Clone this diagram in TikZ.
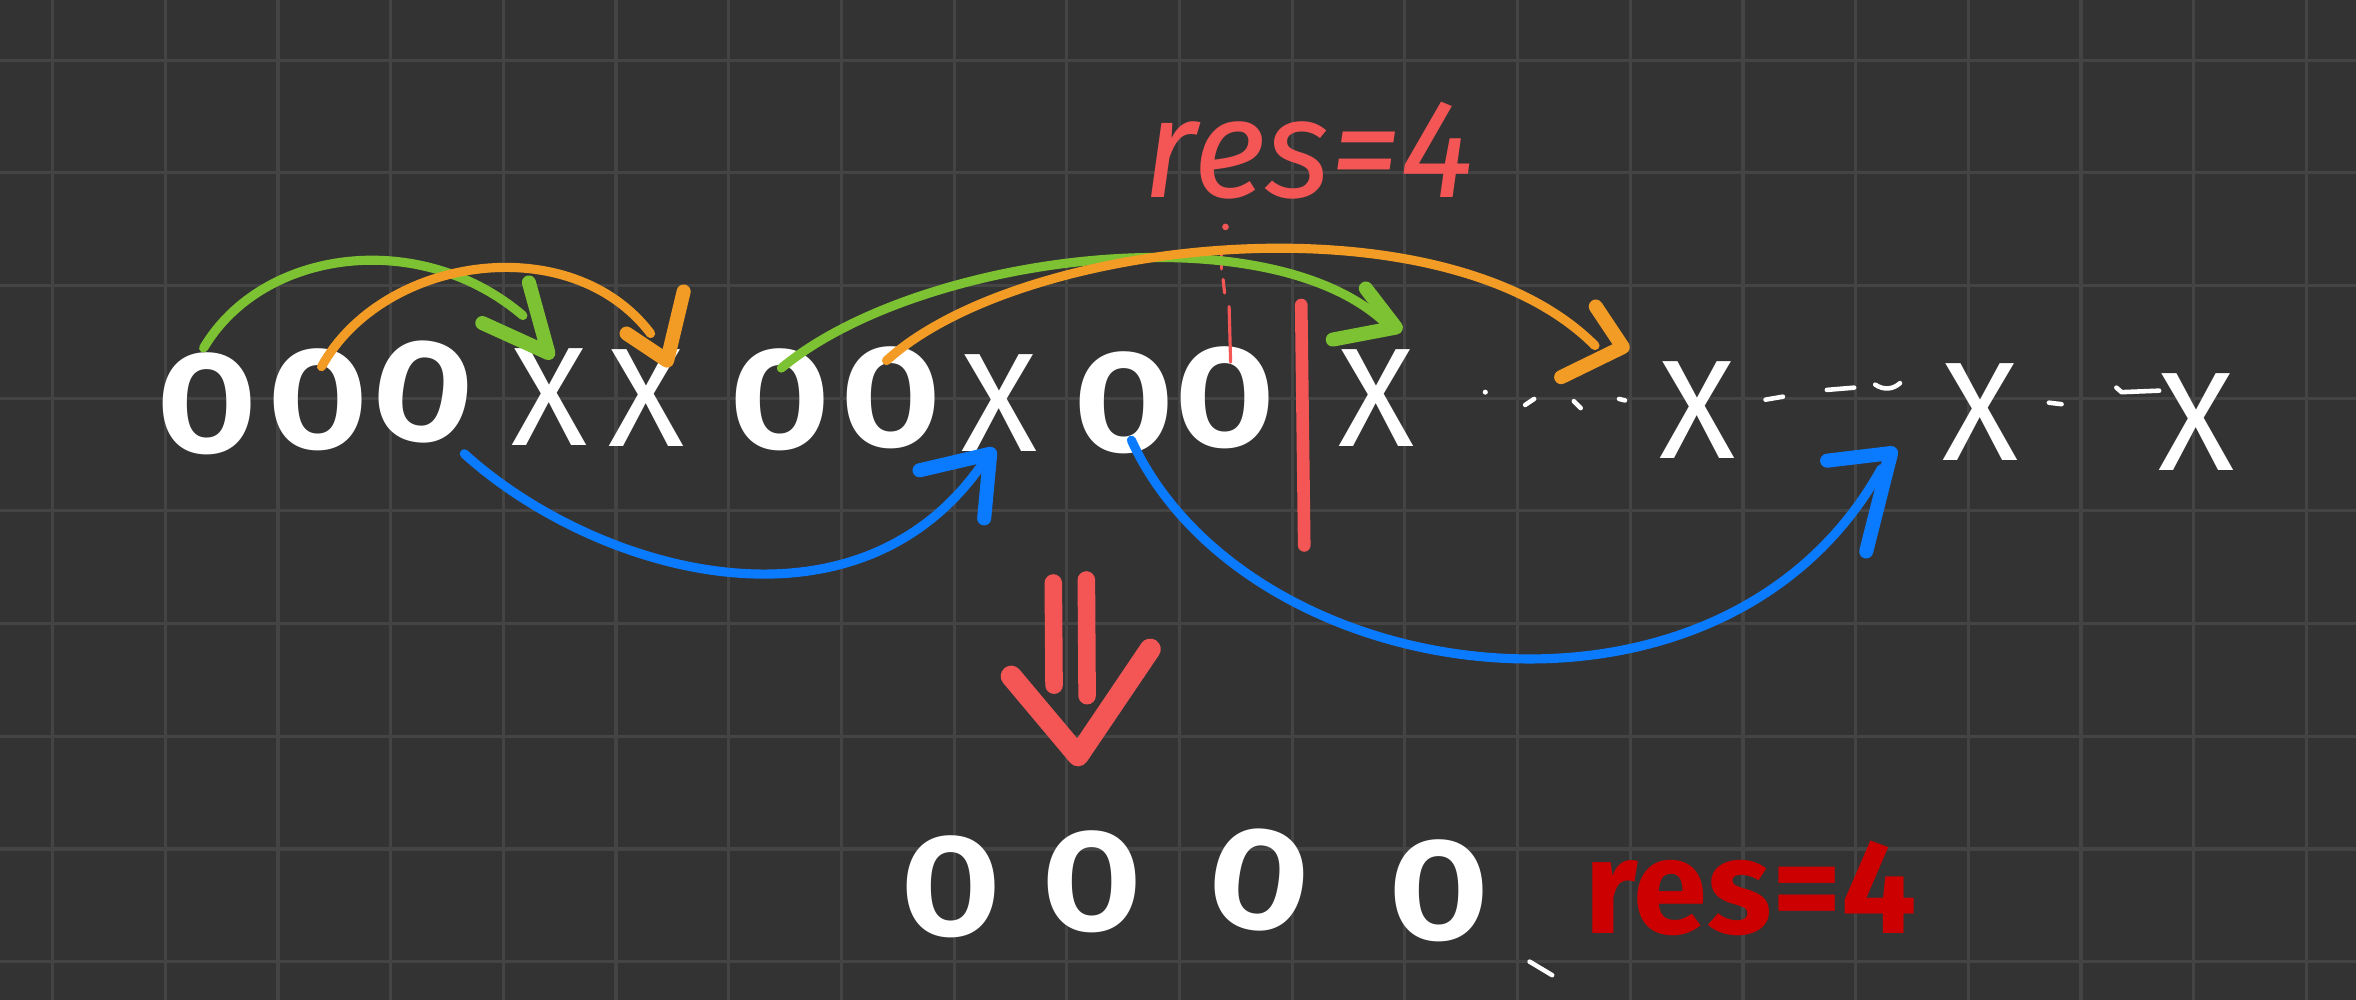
\documentclass[tikz,border=0pt]{standalone}
\usepackage{fontspec}
\setmainfont{Fira Sans}
\definecolor{bgc}{HTML}{333333}
\definecolor{gridc}{HTML}{444444}
\definecolor{greenc}{HTML}{7CC232}
\definecolor{orangec}{HTML}{F39C25}
\definecolor{bluec}{HTML}{0A7BFF}
\definecolor{redc}{HTML}{F45656}
\definecolor{darkredc}{HTML}{CC0000}
\begin{document}
\begin{tikzpicture}[x=0.15026mm,y=-0.15026mm,
  gridline/.style={draw=gridc,line width=0.9pt},
  oo/.style={text=white,inner sep=0pt,font=\fontsize{40}{40}\selectfont\bfseries},
  xx/.style={text=white,inner sep=0pt,font=\fontsize{40}{40}\selectfont},
  arc/.style={line width=2.6pt,line cap=round},
  head/.style={line width=4pt,line cap=round,line join=round},
  dashmark/.style={draw=white,line width=1.3pt,line cap=round},
  reslabel/.style={text=redc,inner sep=0pt,font=\fontsize{40}{40}\selectfont\itshape}]
\fill[bgc] (0,0) rectangle (1568,665.5);
\useasboundingbox (0,0) rectangle (1568,665.5);
\foreach \i in {0,...,20} \draw[gridline] (35+75*\i,0) -- (35+75*\i,665.5);
\foreach \j in {0,...,8} \draw[gridline] (0,40+75*\j) -- (1568,40+75*\j);

% top row
\node[oo] (c1) at (138,269) {O};
\node[oo] (c2) at (212,266) {O};
\node[oo,rotate=-8] (c3) at (282,261) {O};
\node[xx] (c4) at (366,264) {X};
\node[xx] (c5) at (430,265) {X};
\node[oo] (c6) at (519,266) {O};
\node[oo] (c7) at (593,265) {O};
\node[xx] (c8) at (665,268) {X};
\node[oo] (c9) at (748,268) {O};
\node[oo] (c10) at (815,265) {O};
\node[xx] (c11) at (916,265) {X};
\node[xx] (c12) at (1130,273) {X};
\node[xx] (c13) at (1318,274) {X};
\node[xx] (c14) at (1462,281) {X};

% dotted / dashed marks between X's
\fill[white] (988.5,261) circle (1.7);
\draw[dashmark] (1015,269.5) -- (1021,265.5);
\draw[dashmark] (1047.4,267) -- (1052,271.6);
\draw[dashmark] (1077.5,265.5) -- (1081.5,266.5);
\draw[dashmark] (1175,266) -- (1186.6,264);
\draw[dashmark] (1215.8,259.5) -- (1234,258);
\draw[dashmark] (1248,256) .. controls (1254,260) and (1260,259) .. (1264.5,255);
\draw[dashmark] (1363.6,268) -- (1372,269);
\draw[dashmark] (1408.5,258) -- (1412,261) -- (1437,260);

% red marks
\node[reslabel] (res1) at (871,100) {res=4};
\fill[redc] (868,127) circle (1.6);
\fill[redc] (815.6,151) circle (2.2);
\draw[redc,line width=0.9pt,line cap=round] (813,169) -- (813,179);
\draw[redc,line width=0.9pt,line cap=round] (814,186) -- (815,195);
\draw[redc,line width=0.9pt,line cap=round] (818,204) -- (819,241);
\coordinate (rtop) at (866,203);
\coordinate (rbot) at (868,363);
\draw[redc,line width=3.6pt,line cap=round] (rtop) -- (rbot);

% green / orange arcs
\coordinate (g1s) at (135.5,231.6); \coordinate (g1e) at (348,210); \coordinate (g1t) at (365,235);
\draw[greenc,arc] (g1s) .. controls (175,165) and (280,152) .. (g1e);
\draw[greenc,head] (352,188) -- (g1t) -- (321,215);

\coordinate (o1s) at (214,244); \coordinate (o1e) at (433,222); \coordinate (o1t) at (444,240);
\draw[orangec,arc] (o1s) .. controls (255,170) and (380,152) .. (o1e);
\draw[orangec,head] (455,194) -- (o1t) -- (417,222);

\coordinate (g2s) at (520,245); \coordinate (g2e) at (921,214); \coordinate (g2t) at (929,218);
\draw[greenc,arc] (g2s) .. controls (610,170) and (840,140) .. (g2e);
\draw[greenc,head] (909,192) -- (g2t) -- (887,226);

\coordinate (o2s) at (590,240); \coordinate (o2e) at (1061.5,230); \coordinate (o2t) at (1080,231);
\draw[orangec,arc] (o2s) .. controls (680,158) and (960,128) .. (o2e);
\draw[orangec,head] (1062,204) -- (o2t) -- (1039,251);

% blue arcs
\coordinate (b1s) at (309,302); \coordinate (b1e) at (655,307); \coordinate (b1t) at (659,302);
\draw[bluec,arc] (b1s) .. controls (395,380) and (570,432) .. (b1e);
\draw[bluec,head] (612,313) -- (b1t) -- (655,345);

\coordinate (b2s) at (753,293); \coordinate (b2e) at (1252,312); \coordinate (b2t) at (1258.6,301.5);
\draw[bluec,arc] (b2s) .. controls (830,460) and (1145,505) .. (b2e);
\draw[bluec,head] (1216,306.6) -- (b2t) -- (1242,367);

% big red down arrow
\draw[redc,line width=5pt,line cap=round] (701,388) -- (701.5,456);
\draw[redc,line width=5pt,line cap=round] (723,386) -- (723.5,463);
\draw[redc,line width=6pt,line cap=round,line join=round] (673,450) -- (717.5,503) -- (765.5,432);

% bottom row
\node[oo] (d1) at (633,590) {O};
\node[oo] (d2) at (727,587) {O};
\node[oo,rotate=-8] (d3) at (838,586) {O};
\node[oo] (d4) at (958,593) {O};
\node[text=darkredc,inner sep=0pt,font=\fontsize{38}{38}\selectfont\bfseries] (res2) at (1165,591) {res=4};
\draw[dashmark] (1018,640) -- (1033,649);
\end{tikzpicture}
\end{document}
